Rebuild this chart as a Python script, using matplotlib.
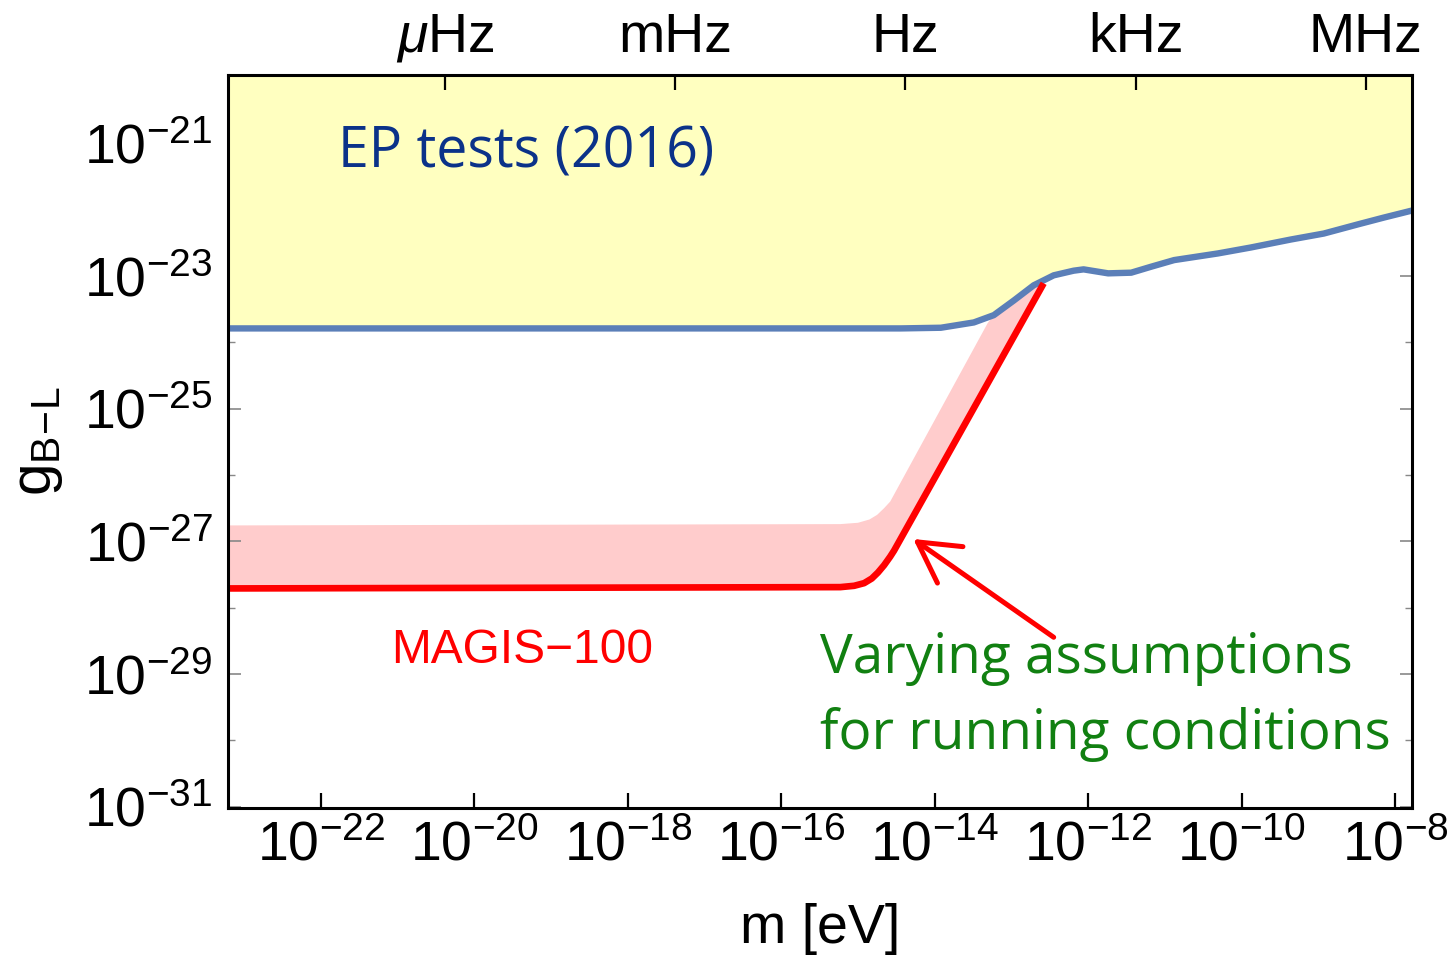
import numpy as np
import matplotlib
matplotlib.use('Agg')
import matplotlib.pyplot as plt  # noqa
from matplotlib.ticker import FixedLocator, NullFormatter  # noqa

plt.rcParams['font.family'] = ['Liberation Sans', 'DejaVu Sans']
plt.rcParams['mathtext.fontset'] = 'custom'
plt.rcParams['mathtext.rm'] = 'Liberation Sans'
plt.rcParams['mathtext.it'] = 'Liberation Sans:italic'
plt.rcParams['mathtext.bf'] = 'Liberation Sans:bold'

# EP tests (2016) bound, log10 values
ep_logm = [-23.3, -14.44, -13.92, -13.49, -13.23, -12.97, -12.71, -12.45,
           -12.19, -12.06, -11.74, -11.44, -11.18, -10.88, -10.31, -9.88,
           -9.36, -8.93, -8.48, -8.15, -7.7]
ep_logg = [-23.79, -23.79, -23.78, -23.70, -23.59, -23.37, -23.14, -22.99,
           -22.92, -22.90, -22.96, -22.95, -22.86, -22.76, -22.66, -22.57,
           -22.45, -22.36, -22.22, -22.12, -21.99]

# MAGIS-100 projected reach (solid red line)
magis_logm = [-23.3, -15.23, -15.05, -14.92, -14.82, -14.74, -14.66, -14.58,
              -14.53, -12.58]
magis_logg = [-27.71, -27.69, -27.67, -27.63, -27.56, -27.47, -27.36, -27.23,
              -27.14, -23.11]

# upper edge of the band of running conditions
band_logm = [-23.3, -15.23, -15.0, -14.85, -14.75, -14.66, -14.58, -13.31,
             -13.23, -12.97, -12.71, -12.58]
band_logg = [-26.76, -26.74, -26.72, -26.67, -26.60, -26.50, -26.40, -23.71,
             -23.59, -23.37, -23.14, -23.11]

x_ticks = [-22, -20, -18, -16, -14, -12, -10, -8]
y_ticks = [-31, -29, -27, -25, -23, -21]
y_minor = [-30, -28, -26, -24, -22, -20]

h_evs = 4.135667e-15  # Planck constant in eV s
freqs = [1e-6, 1e-3, 1.0, 1e3, 1e6]
freq_labels = [r'$\mu$Hz', 'mHz', 'Hz', 'kHz', 'MHz']

fig = plt.figure(figsize=(14.53, 9.74), dpi=100)
ax = fig.add_axes([0.1569, 0.1704, 0.8149, 0.7526])
ax.set_xscale('log')
ax.set_yscale('log')
xmin, xmax = 10**-23.21, 10**-7.78
ax.set_xlim(xmin, xmax)
ax.set_ylim(10**-31.02, 10**-19.97)

ep_m = 10**np.array(ep_logm)
ep_g = 10**np.array(ep_logg)
mg_m = 10**np.array(magis_logm)
mg_g = 10**np.array(magis_logg)
bd_m = 10**np.array(band_logm)
bd_g = 10**np.array(band_logg)

# pink band, then yellow excluded region on top
ax.fill(np.concatenate([bd_m, mg_m[::-1]]),
        np.concatenate([bd_g, mg_g[::-1]]),
        color='#ffcccc', lw=0, zorder=1)
ax.fill_between(ep_m, ep_g, 1e-15, color='#ffffc0', lw=0, zorder=2)
ax.plot(ep_m, ep_g, color='#5b7fb8', lw=4.6, zorder=3,
        solid_capstyle='butt', solid_joinstyle='round')
ax.plot(mg_m, mg_g, color='#ff0000', lw=4.8, zorder=3,
        solid_capstyle='butt', solid_joinstyle='round')

# ticks
ax.xaxis.set_major_locator(FixedLocator([10.0**e for e in x_ticks]))
ax.xaxis.set_minor_locator(FixedLocator([]))
ax.set_xticklabels([r'$10^{%d}$' % e for e in x_ticks])
ax.yaxis.set_major_locator(FixedLocator([10.0**e for e in y_ticks]))
ax.yaxis.set_minor_locator(FixedLocator([10.0**e for e in y_minor]))
ax.yaxis.set_minor_formatter(NullFormatter())
ax.set_yticklabels([r'$10^{%d}$' % e for e in y_ticks])
ax.tick_params(axis='x', which='major', direction='in', length=11,
               width=1.6, color='black', labelsize=40, pad=9)
ax.tick_params(axis='y', which='major', direction='in', length=9,
               width=1.2, color='#888888', labelsize=40, pad=11,
               right=True)
ax.tick_params(axis='y', which='minor', direction='in', length=5,
               width=1.0, color='#888888', right=True)
for s in ax.spines.values():
    s.set_linewidth(2.2)
    s.set_zorder(5)

top = ax.twiny()
top.set_xscale('log')
top.set_xlim(xmin, xmax)
top.xaxis.set_major_locator(FixedLocator([h_evs * f for f in freqs]))
top.xaxis.set_minor_locator(FixedLocator([]))
top.set_xticklabels(freq_labels)
top.tick_params(axis='x', which='major', direction='in', length=11,
                width=1.6, color='black', labelsize=40, pad=8)

ax.set_xlabel('m [eV]', fontsize=40, labelpad=22)
ax.set_ylabel(r'$\mathrm{g}_{\mathrm{B\!-\!L}}$', fontsize=42, labelpad=14)

# annotations
calibri_like = ['Open Sans', 'DejaVu Sans']
ax.text(10**-21.78, 10**-21.36, 'EP tests (2016)', fontsize=40,
        family=calibri_like, color='#0b3289', va='baseline', zorder=6)
ax.text(10**-21.09, 10**-28.83, 'MAGIS\u2212100', fontsize=34.5,
        color='#ff0000', va='baseline', zorder=6)
ax.text(10**-15.49, 10**-28.99, 'Varying assumptions', fontsize=39.5,
        family=calibri_like, color='#118011', va='baseline', zorder=6)
ax.text(10**-15.49, 10**-30.13, 'for running conditions', fontsize=39.5,
        family=calibri_like, color='#118011', va='baseline', zorder=6)
ax.annotate('', xy=(10**-14.31, 10**-26.94), xytext=(10**-12.42, 10**-28.47),
            arrowprops=dict(arrowstyle='->,head_length=0.9,head_width=0.5',
                            color='#ff0000', lw=3.6, mutation_scale=32),
            zorder=6)

fig.savefig('out.png', dpi=100)
